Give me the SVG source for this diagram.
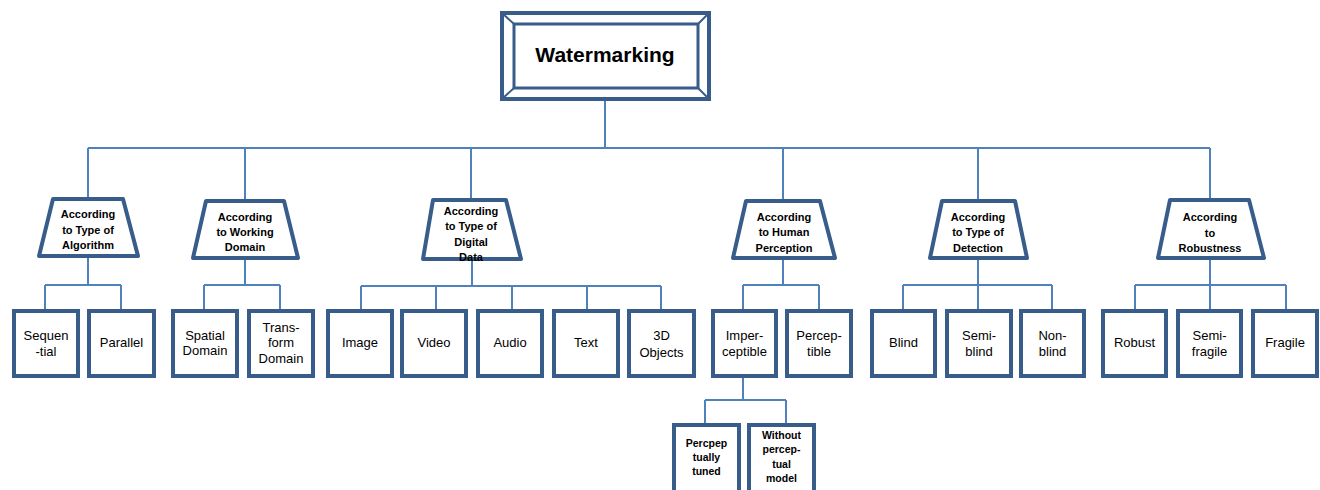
<svg xmlns="http://www.w3.org/2000/svg" width="1320" height="490" viewBox="0 0 1320 490">
<defs>
<style>
.bx{fill:#fff;stroke:#385d8a;stroke-width:4}
.tz{fill:#fff;stroke:#385d8a;stroke-width:4;stroke-linejoin:round}
.cn{fill:none;stroke:#4f81bd;stroke-width:2}
.tt{font-family:"Liberation Sans",Arial,sans-serif;font-weight:bold;font-size:11px;fill:#000;text-anchor:middle}
.lf{font-family:"Liberation Sans",Arial,sans-serif;font-size:13px;fill:#000;text-anchor:middle}
.sm{font-family:"Liberation Sans",Arial,sans-serif;font-weight:bold;font-size:10.5px;fill:#000;text-anchor:middle}
.ti{font-family:"Liberation Sans",Arial,sans-serif;font-weight:bold;font-size:21px;fill:#000;text-anchor:middle}
</style>
</defs>
<rect width="1320" height="490" fill="#fff"/>
<g id="connectors">
<path class="cn" d="M605 101V148M88 148H1210M88 148V199M245 148V201M471 148V200M783 148V201M978 148V201M1210 148V200"/>
<path class="cn" d="M88 256V285M45 285H121M45 285V311M121 285V311"/>
<path class="cn" d="M245 258V285M204 285H280M204 285V311M280 285V311"/>
<path class="cn" d="M472 259V286M361 286H661M361 286V311M436 286V311M512 286V311M587 286V311M661 286V311"/>
<path class="cn" d="M783 258V285M743 285H819M743 285V311M819 285V311"/>
<path class="cn" d="M978 258V285M903 285H1052M903 285V311M978 285V311M1052 285V311"/>
<path class="cn" d="M1210 258V285M1135 285H1286M1135 285V311M1210 285V311M1286 285V311"/>
<path class="cn" d="M743 376V400M705 400H786M705 400V425M786 400V425"/>
</g>
<g id="root">
<rect class="bx" x="502" y="13" width="207" height="86"/>
<rect fill="none" stroke="#385d8a" stroke-width="3" x="514" y="24" width="184" height="64"/>
<path fill="none" stroke="#385d8a" stroke-width="2" d="M502 13L514 24M709 13L698 24M502 99L514 88M709 99L698 88"/>
<text class="ti" x="605" y="62">Watermarking</text>
</g>
<g id="cat-algorithm">
<path class="tz" d="M53 199H123L138 256H39Z"/>
<text class="tt" x="88" y="218">According</text><text class="tt" x="88" y="234">to Type of</text><text class="tt" x="88" y="249">Algorithm</text>
</g>
<g id="cat-domain">
<path class="tz" d="M206 201H284L298 258H193Z"/>
<text class="tt" x="245" y="221">According</text><text class="tt" x="245" y="236">to Working</text><text class="tt" x="245" y="251">Domain</text>
</g>
<g id="cat-data">
<path class="tz" d="M433 200H506L521 259H423Z"/>
<text class="tt" x="471" y="215">According</text><text class="tt" x="471" y="230">to Type of</text><text class="tt" x="471" y="246">Digital</text><text class="tt" x="471" y="261">Data</text>
</g>
<g id="cat-perception">
<path class="tz" d="M746 201H820L835 258H733Z"/>
<text class="tt" x="784" y="221">According</text><text class="tt" x="784" y="236">to Human</text><text class="tt" x="784" y="252">Perception</text>
</g>
<g id="cat-detection">
<path class="tz" d="M942 201H1015L1027 258H930Z"/>
<text class="tt" x="978" y="221">According</text><text class="tt" x="978" y="236">to Type of</text><text class="tt" x="978" y="252">Detection</text>
</g>
<g id="cat-robustness">
<path class="tz" d="M1170 200H1249L1264 258H1158Z"/>
<text class="tt" x="1210" y="221">According</text><text class="tt" x="1210" y="237">to</text><text class="tt" x="1210" y="252">Robustness</text>
</g>
<g id="leaf-sequential"><rect class="bx" x="14" y="311" width="64" height="65"/><text class="lf" x="46" y="340">Sequen</text><text class="lf" x="46" y="356">-tial</text></g>
<g id="leaf-parallel"><rect class="bx" x="89" y="311" width="65" height="65"/><text class="lf" x="121.5" y="347">Parallel</text></g>
<g id="leaf-spatial"><rect class="bx" x="173" y="311" width="64" height="65"/><text class="lf" x="205" y="340">Spatial</text><text class="lf" x="205" y="355">Domain</text></g>
<g id="leaf-transform"><rect class="bx" x="249" y="311" width="64" height="65"/><text class="lf" x="281" y="332">Trans-</text><text class="lf" x="281" y="347">form</text><text class="lf" x="281" y="363">Domain</text></g>
<g id="leaf-image"><rect class="bx" x="328" y="311" width="64" height="65"/><text class="lf" x="360" y="347">Image</text></g>
<g id="leaf-video"><rect class="bx" x="402" y="311" width="64" height="65"/><text class="lf" x="434" y="347">Video</text></g>
<g id="leaf-audio"><rect class="bx" x="478" y="311" width="64" height="65"/><text class="lf" x="510" y="347">Audio</text></g>
<g id="leaf-text"><rect class="bx" x="554" y="311" width="64" height="65"/><text class="lf" x="586" y="347">Text</text></g>
<g id="leaf-3d"><rect class="bx" x="629" y="311" width="65" height="65"/><text class="lf" x="661.5" y="340">3D</text><text class="lf" x="661.5" y="357">Objects</text></g>
<g id="leaf-imperceptible"><rect class="bx" x="713" y="311" width="63" height="65"/><text class="lf" x="744.5" y="340">Imper-</text><text class="lf" x="744.5" y="356">ceptible</text></g>
<g id="leaf-perceptible"><rect class="bx" x="787" y="311" width="64" height="65"/><text class="lf" x="819" y="340">Percep-</text><text class="lf" x="819" y="356">tible</text></g>
<g id="leaf-blind"><rect class="bx" x="872" y="311" width="63" height="65"/><text class="lf" x="903.5" y="347">Blind</text></g>
<g id="leaf-semiblind"><rect class="bx" x="947" y="311" width="64" height="65"/><text class="lf" x="979" y="340">Semi-</text><text class="lf" x="979" y="356">blind</text></g>
<g id="leaf-nonblind"><rect class="bx" x="1021" y="311" width="63" height="65"/><text class="lf" x="1052.5" y="340">Non-</text><text class="lf" x="1052.5" y="356">blind</text></g>
<g id="leaf-robust"><rect class="bx" x="1103" y="311" width="63" height="65"/><text class="lf" x="1134.5" y="347">Robust</text></g>
<g id="leaf-semifragile"><rect class="bx" x="1178" y="311" width="63" height="65"/><text class="lf" x="1209.5" y="340">Semi-</text><text class="lf" x="1209.5" y="356">fragile</text></g>
<g id="leaf-fragile"><rect class="bx" x="1253" y="311" width="64" height="65"/><text class="lf" x="1285" y="347">Fragile</text></g>
<g id="leaf-tuned"><rect class="bx" x="674" y="425" width="65" height="70"/><text class="sm" x="706.5" y="447">Percpep</text><text class="sm" x="706.5" y="461">tually</text><text class="sm" x="706.5" y="475">tuned</text></g>
<g id="leaf-without"><rect class="bx" x="749" y="425" width="65" height="70"/><text class="sm" x="781.5" y="439">Without</text><text class="sm" x="781.5" y="453">percep-</text><text class="sm" x="781.5" y="468">tual</text><text class="sm" x="781.5" y="482">model</text></g>
</svg>
